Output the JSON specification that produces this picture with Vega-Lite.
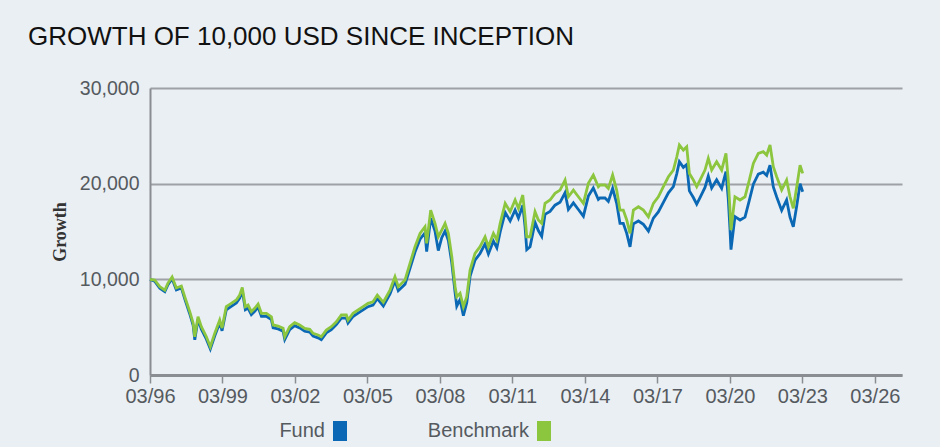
{
  "$schema": "https://vega.github.io/schema/vega-lite/v6.json",
  "autosize": {"type": "none"},
  "width": 752,
  "height": 287,
  "padding": {"left": 150, "top": 88, "right": 38, "bottom": 72},
  "background": "#eaeff3",
  "config": {
    "view": {"stroke": null},
    "font": "Liberation Sans"
  },
  "title": {
    "text": "GROWTH OF 10,000 USD SINCE INCEPTION",
    "anchor": "start",
    "frame": "group",
    "dx": -122,
    "offset": 7,
    "baseline": "alphabetic",
    "fontSize": 26,
    "fontWeight": "normal",
    "font": "Liberation Sans",
    "color": "#111111"
  },
  "data": {
    "values": [
      {"d": "1996-03-01", "b": 10000, "f": 10000},
      {"d": "1996-05-10", "b": 9930, "f": 9800},
      {"d": "1996-07-27", "b": 9230, "f": 9080},
      {"d": "1996-10-11", "b": 8880, "f": 8720},
      {"d": "1996-11-28", "b": 9610, "f": 9450},
      {"d": "1997-01-29", "b": 10240, "f": 10060},
      {"d": "1997-04-03", "b": 9090, "f": 8900},
      {"d": "1997-06-18", "b": 9300, "f": 9100},
      {"d": "1997-08-08", "b": 8180, "f": 7950},
      {"d": "1997-10-23", "b": 6620, "f": 6380},
      {"d": "1997-12-13", "b": 5430, "f": 5180},
      {"d": "1998-01-07", "b": 4000, "f": 3680},
      {"d": "1998-02-25", "b": 6090, "f": 5820},
      {"d": "1998-04-16", "b": 5050, "f": 4780},
      {"d": "1998-07-01", "b": 4000, "f": 3750},
      {"d": "1998-08-30", "b": 2960, "f": 2730},
      {"d": "1998-11-04", "b": 4350, "f": 4080},
      {"d": "1999-01-19", "b": 5750, "f": 5450},
      {"d": "1999-02-23", "b": 4910, "f": 4620},
      {"d": "1999-04-28", "b": 7140, "f": 6820},
      {"d": "1999-07-13", "b": 7490, "f": 7170},
      {"d": "1999-09-27", "b": 7840, "f": 7520},
      {"d": "1999-11-17", "b": 8360, "f": 8030},
      {"d": "1999-12-26", "b": 9160, "f": 8820},
      {"d": "2000-02-10", "b": 7140, "f": 6820},
      {"d": "2000-03-22", "b": 7310, "f": 7000},
      {"d": "2000-05-11", "b": 6620, "f": 6300},
      {"d": "2000-07-01", "b": 6970, "f": 6650},
      {"d": "2000-08-21", "b": 7420, "f": 7100},
      {"d": "2000-10-10", "b": 6450, "f": 6130},
      {"d": "2000-12-25", "b": 6450, "f": 6140},
      {"d": "2001-03-10", "b": 6090, "f": 5780},
      {"d": "2001-04-05", "b": 5230, "f": 4930},
      {"d": "2001-06-19", "b": 5120, "f": 4820},
      {"d": "2001-09-03", "b": 4880, "f": 4580},
      {"d": "2001-09-28", "b": 4000, "f": 3720},
      {"d": "2001-12-12", "b": 5050, "f": 4750},
      {"d": "2002-02-25", "b": 5470, "f": 5160},
      {"d": "2002-05-12", "b": 5230, "f": 4920},
      {"d": "2002-07-27", "b": 4880, "f": 4570},
      {"d": "2002-10-11", "b": 4780, "f": 4480},
      {"d": "2002-11-30", "b": 4350, "f": 4060},
      {"d": "2003-02-13", "b": 4180, "f": 3880},
      {"d": "2003-04-03", "b": 4000, "f": 3700},
      {"d": "2003-06-18", "b": 4700, "f": 4400},
      {"d": "2003-09-02", "b": 5050, "f": 4740},
      {"d": "2003-11-17", "b": 5570, "f": 5260},
      {"d": "2004-01-31", "b": 6270, "f": 5950},
      {"d": "2004-04-16", "b": 6270, "f": 5950},
      {"d": "2004-05-11", "b": 5750, "f": 5430},
      {"d": "2004-07-26", "b": 6450, "f": 6120},
      {"d": "2004-10-10", "b": 6790, "f": 6460},
      {"d": "2004-12-25", "b": 7140, "f": 6800},
      {"d": "2005-03-10", "b": 7490, "f": 7140},
      {"d": "2005-05-24", "b": 7660, "f": 7300},
      {"d": "2005-07-28", "b": 8360, "f": 7990},
      {"d": "2005-10-27", "b": 7600, "f": 7220},
      {"d": "2006-02-05", "b": 8880, "f": 8480},
      {"d": "2006-04-21", "b": 10270, "f": 9850},
      {"d": "2006-06-10", "b": 9230, "f": 8800},
      {"d": "2006-09-20", "b": 9930, "f": 9480},
      {"d": "2006-12-04", "b": 11670, "f": 11150},
      {"d": "2007-02-18", "b": 13410, "f": 12850},
      {"d": "2007-05-05", "b": 14800, "f": 14200},
      {"d": "2007-07-19", "b": 15500, "f": 14850},
      {"d": "2007-08-13", "b": 13760, "f": 12900},
      {"d": "2007-10-13", "b": 17240, "f": 16400},
      {"d": "2007-12-17", "b": 15850, "f": 15050},
      {"d": "2008-02-05", "b": 14450, "f": 13000},
      {"d": "2008-03-28", "b": 15150, "f": 14350},
      {"d": "2008-05-17", "b": 15850, "f": 15050},
      {"d": "2008-07-06", "b": 14800, "f": 14050},
      {"d": "2008-08-27", "b": 12360, "f": 11700},
      {"d": "2008-10-16", "b": 9230, "f": 8600},
      {"d": "2008-11-10", "b": 8180, "f": 7200},
      {"d": "2008-12-30", "b": 8540, "f": 7900},
      {"d": "2009-02-18", "b": 7140, "f": 6200},
      {"d": "2009-04-10", "b": 8180, "f": 7550},
      {"d": "2009-05-30", "b": 10970, "f": 10300},
      {"d": "2009-08-13", "b": 12720, "f": 12000},
      {"d": "2009-10-28", "b": 13410, "f": 12700},
      {"d": "2010-01-12", "b": 14450, "f": 13700},
      {"d": "2010-03-03", "b": 13410, "f": 12650},
      {"d": "2010-05-18", "b": 14800, "f": 14000},
      {"d": "2010-07-09", "b": 14110, "f": 13300},
      {"d": "2010-08-28", "b": 15850, "f": 14950},
      {"d": "2010-11-12", "b": 17940, "f": 17000},
      {"d": "2011-01-26", "b": 17070, "f": 16100},
      {"d": "2011-04-11", "b": 18290, "f": 17250},
      {"d": "2011-05-31", "b": 17420, "f": 16400},
      {"d": "2011-08-05", "b": 18810, "f": 17750},
      {"d": "2011-09-08", "b": 16540, "f": 15500},
      {"d": "2011-10-04", "b": 14450, "f": 13100},
      {"d": "2011-11-23", "b": 14450, "f": 13400},
      {"d": "2012-02-06", "b": 17070, "f": 15950},
      {"d": "2012-03-27", "b": 16200, "f": 15100},
      {"d": "2012-05-17", "b": 15850, "f": 14500},
      {"d": "2012-07-06", "b": 17940, "f": 16800},
      {"d": "2012-09-20", "b": 18290, "f": 17100},
      {"d": "2012-12-04", "b": 18990, "f": 17750},
      {"d": "2013-02-18", "b": 19330, "f": 18050},
      {"d": "2013-05-05", "b": 20380, "f": 19050},
      {"d": "2013-06-24", "b": 18630, "f": 17300},
      {"d": "2013-09-08", "b": 19330, "f": 18000},
      {"d": "2013-11-22", "b": 18630, "f": 17300},
      {"d": "2014-02-06", "b": 17940, "f": 16600},
      {"d": "2014-04-22", "b": 20030, "f": 18700},
      {"d": "2014-07-06", "b": 20900, "f": 19550},
      {"d": "2014-09-20", "b": 19680, "f": 18350},
      {"d": "2014-10-15", "b": 19860, "f": 18500},
      {"d": "2014-12-30", "b": 19860, "f": 18500},
      {"d": "2015-02-18", "b": 19510, "f": 18150},
      {"d": "2015-04-24", "b": 20900, "f": 19500},
      {"d": "2015-06-24", "b": 19330, "f": 17950},
      {"d": "2015-08-13", "b": 17240, "f": 15850},
      {"d": "2015-10-02", "b": 17240, "f": 15850},
      {"d": "2015-11-23", "b": 16200, "f": 14800},
      {"d": "2016-01-12", "b": 14800, "f": 13400},
      {"d": "2016-03-03", "b": 17240, "f": 15800},
      {"d": "2016-05-18", "b": 17590, "f": 16100},
      {"d": "2016-08-01", "b": 17240, "f": 15750},
      {"d": "2016-10-16", "b": 16540, "f": 15050},
      {"d": "2016-12-30", "b": 17940, "f": 16400},
      {"d": "2017-03-15", "b": 18630, "f": 17050},
      {"d": "2017-05-30", "b": 19680, "f": 18050},
      {"d": "2017-08-14", "b": 20720, "f": 19050},
      {"d": "2017-10-28", "b": 21420, "f": 19700},
      {"d": "2017-12-19", "b": 22810, "f": 21050},
      {"d": "2018-01-27", "b": 24040, "f": 22290},
      {"d": "2018-03-28", "b": 23510, "f": 21700},
      {"d": "2018-05-18", "b": 23860, "f": 22000},
      {"d": "2018-06-27", "b": 21070, "f": 19250},
      {"d": "2018-08-26", "b": 20380, "f": 18550},
      {"d": "2018-10-16", "b": 19680, "f": 17850},
      {"d": "2018-12-05", "b": 20380, "f": 18550},
      {"d": "2019-02-18", "b": 21420, "f": 19600},
      {"d": "2019-04-09", "b": 22640, "f": 20800},
      {"d": "2019-05-30", "b": 21420, "f": 19550},
      {"d": "2019-08-13", "b": 22290, "f": 20400},
      {"d": "2019-10-28", "b": 21420, "f": 19500},
      {"d": "2020-01-01", "b": 23160, "f": 21250},
      {"d": "2020-02-05", "b": 20380, "f": 18400},
      {"d": "2020-03-02", "b": 17240, "f": 15200},
      {"d": "2020-03-17", "b": 15150, "f": 13100},
      {"d": "2020-05-16", "b": 18630, "f": 16550},
      {"d": "2020-08-01", "b": 18290, "f": 16200},
      {"d": "2020-10-15", "b": 18630, "f": 16500},
      {"d": "2020-12-19", "b": 20380, "f": 18250},
      {"d": "2021-02-18", "b": 22120, "f": 19950},
      {"d": "2021-05-04", "b": 23160, "f": 21000},
      {"d": "2021-07-18", "b": 23340, "f": 21200},
      {"d": "2021-09-08", "b": 22990, "f": 20850},
      {"d": "2021-10-28", "b": 24040, "f": 21940},
      {"d": "2021-12-17", "b": 21770, "f": 19650},
      {"d": "2022-02-06", "b": 20720, "f": 18600},
      {"d": "2022-04-22", "b": 19330, "f": 17200},
      {"d": "2022-07-06", "b": 20380, "f": 18300},
      {"d": "2022-08-26", "b": 18630, "f": 16500},
      {"d": "2022-10-15", "b": 17420, "f": 15500},
      {"d": "2022-12-06", "b": 19680, "f": 17700},
      {"d": "2023-01-25", "b": 21940, "f": 20000},
      {"d": "2023-03-06", "b": 21070, "f": 19160}
    ]
  },
  "encoding": {
    "x": {
      "field": "d",
      "type": "temporal",
      "scale": {
        "type": "utc",
        "domain": [
          {"year": 1996, "month": 3, "date": 1, "utc": true},
          {"year": 2027, "month": 4, "date": 15, "utc": true}
        ]
      },
      "axis": {
        "title": null,
        "format": "%m/%y",
        "values": [
          {"year": 1996, "month": 3, "date": 1, "utc": true},
          {"year": 1999, "month": 3, "date": 1, "utc": true},
          {"year": 2002, "month": 3, "date": 1, "utc": true},
          {"year": 2005, "month": 3, "date": 1, "utc": true},
          {"year": 2008, "month": 3, "date": 1, "utc": true},
          {"year": 2011, "month": 3, "date": 1, "utc": true},
          {"year": 2014, "month": 3, "date": 1, "utc": true},
          {"year": 2017, "month": 3, "date": 1, "utc": true},
          {"year": 2020, "month": 3, "date": 1, "utc": true},
          {"year": 2023, "month": 3, "date": 1, "utc": true},
          {"year": 2026, "month": 3, "date": 1, "utc": true}
        ],
        "grid": false,
        "labelFlush": false,
        "labelOverlap": false,
        "domainColor": "#8a8e92",
        "domainWidth": 3,
        "ticks": true,
        "tickColor": "#8a8e92",
        "tickWidth": 1.5,
        "tickSize": 8,
        "labelFontSize": 20,
        "labelColor": "#555a5f",
        "labelPadding": 3,
        "labelFont": "Liberation Sans"
      }
    }
  },
  "layer": [
    {
      "mark": {"type": "line", "strokeWidth": 2.8, "interpolate": "linear"},
      "encoding": {
        "y": {
          "field": "f",
          "type": "quantitative",
          "scale": {"domain": [0, 30000], "nice": false},
          "axis": {
            "title": "Growth",
            "titleFont": "Liberation Serif",
            "titleFontWeight": "bold",
            "titleFontSize": 18,
            "titleColor": "#333333",
            "titlePadding": 10,
            "values": [0, 10000, 20000, 30000],
            "format": ",d",
            "grid": true,
            "gridColor": "#9ea2a6",
            "gridWidth": 2,
            "domainColor": "#8a8e92",
            "domainWidth": 2,
            "ticks": false,
            "labelFontSize": 19.5,
            "labelColor": "#555a5f",
            "labelPadding": 11,
            "labelFont": "Liberation Sans"
          }
        },
        "color": {
          "datum": "Fund",
          "type": "nominal",
          "scale": {"domain": ["Fund", "Benchmark"], "range": ["#0a68b4", "#8cc63f"]},
          "legend": {
            "title": null,
            "orient": "none",
            "legendX": 180,
            "legendY": 333,
            "direction": "horizontal",
            "symbolType": "M-0.7,-1H0.7V1H-0.7Z",
            "symbolSize": 400,
            "symbolStrokeWidth": 0,
            "labelAlign": "right",
            "labelOffset": -25,
            "labelFontSize": 20,
            "labelColor": "#555a5f",
            "labelFont": "Liberation Sans",
            "columnPadding": 80,
            "encode": {
              "symbols": {
                "update": {
                  "fill": {"scale": "color", "field": "value"},
                  "fillOpacity": {"value": 1},
                  "strokeWidth": {"value": 0}
                }
              }
            }
          }
        }
      }
    },
    {
      "mark": {"type": "line", "strokeWidth": 2.8, "interpolate": "linear"},
      "encoding": {
        "y": {"field": "b", "type": "quantitative"},
        "color": {"datum": "Benchmark", "type": "nominal"}
      }
    }
  ]
}
